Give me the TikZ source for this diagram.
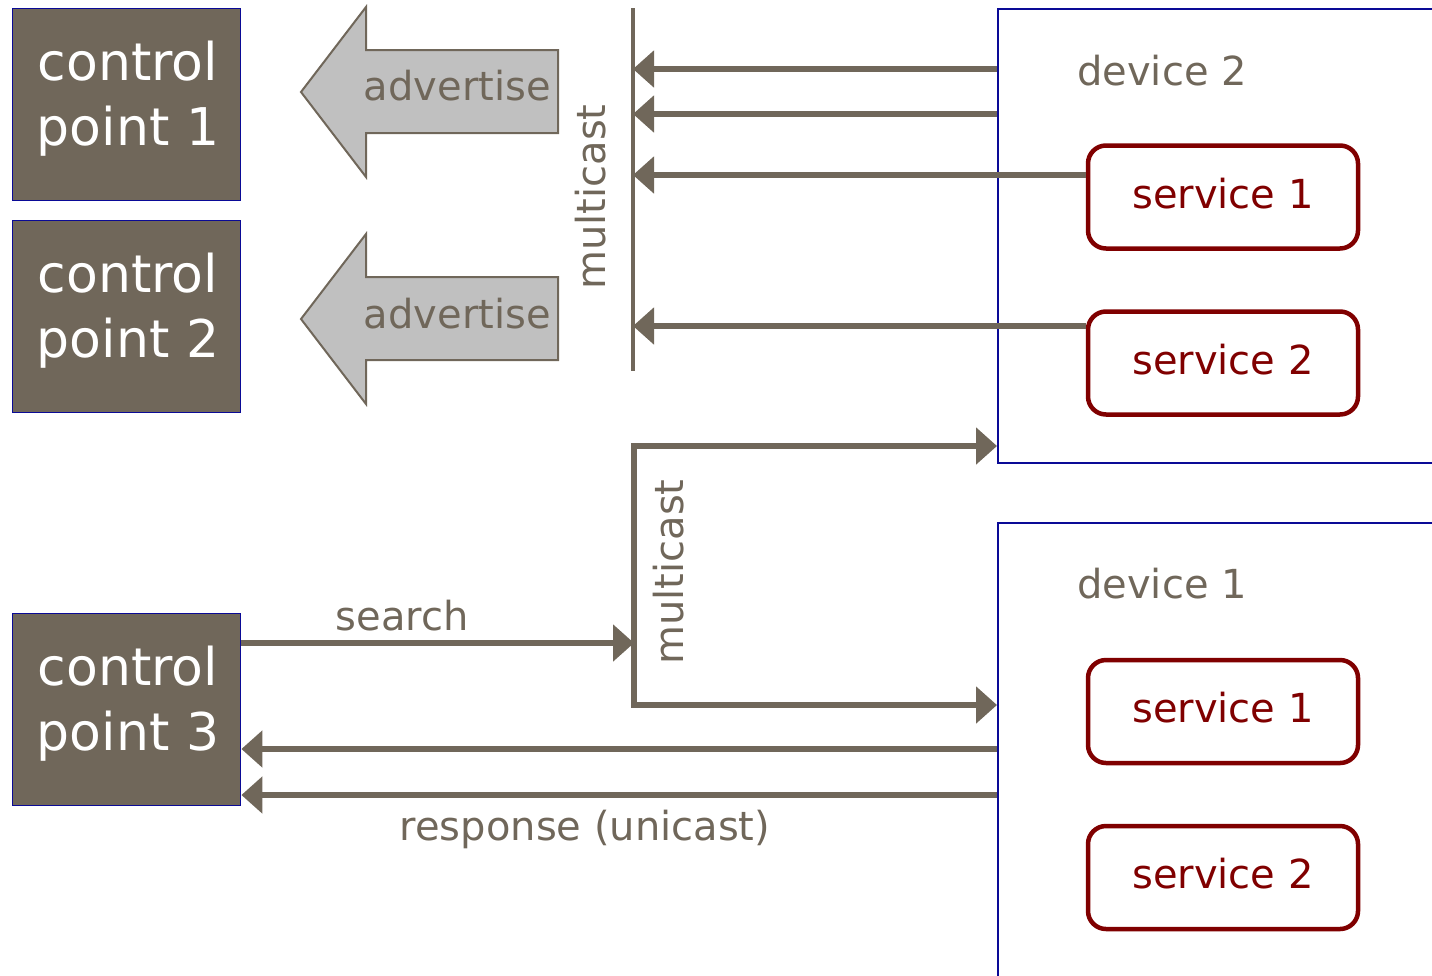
\documentclass[tikz,border=0pt]{standalone}
\usepackage{fontspec}
\setmainfont{DejaVu Sans}
\usetikzlibrary{arrows.meta}
\definecolor{ink}{RGB}{112,103,90}
\definecolor{navy}{RGB}{10,10,150}
\definecolor{svcred}{RGB}{128,0,0}
\definecolor{advfill}{RGB}{192,192,192}

\begin{document}
\begin{tikzpicture}[x=1pt,y=-1pt,
  cpbox/.style={draw=navy, line width=1.8pt, fill=ink, minimum width=228pt,
    minimum height=192pt, inner sep=0pt},
  cptext/.style={text=white, font=\fontsize{52}{65}\selectfont, align=center,
    inner sep=0pt, anchor=north},
  device/.style={draw=navy, line width=2pt, inner sep=0pt, anchor=north west},
  svc/.style={draw=svcred, line width=4.5pt, rounded corners=18pt, minimum width=270pt,
    minimum height=103pt, text=svcred, font=\fontsize{40}{48}\selectfont,
    text height=29pt, text depth=7pt, inner sep=0pt},
  lbl/.style={text=ink, font=\fontsize{40}{48}\selectfont, inner sep=0pt},
  tip/.style={-{Triangle[length=21pt,width=36pt]}},
  flow/.style={draw=ink, line width=6pt, tip},
  bus/.style={draw=ink, line width=4pt},
  bigarrow/.style={draw=ink, line width=2pt, fill=advfill, line join=miter}
]
\useasboundingbox (0,0) rectangle (1432,975);
\clip (0,0) rectangle (1432,975);

% control points
\node[cpbox] (cp1) at (126.5,104.5) {};
\node[cptext] (cp1t) at (128,40.5) {control\\point 1};
\node[cpbox] (cp2) at (126.5,316.5) {};
\node[cptext] (cp2t) at (128,252.5) {control\\point 2};
\node[cpbox] (cp3) at (126.5,709.5) {};
\node[cptext] (cp3t) at (128,645.5) {control\\point 3};

% devices and their services
\node[device, minimum width=460pt, minimum height=454pt] (dev2) at (997,8) {};
\node[device, minimum width=460pt, minimum height=470pt] (dev1) at (997,522) {};
\node[lbl, anchor=base west] (dev2t) at (1077,85) {device 2};
\node[lbl, anchor=base west] (dev1t) at (1077,598) {device 1};
\node[svc] (svc21) at (1223,197) {service 1};
\node[svc] (svc22) at (1223,363) {service 2};
\node[svc] (svc11) at (1223,711.5) {service 1};
\node[svc] (svc12) at (1223,877.5) {service 2};

% advertisement arrows
\draw[bigarrow] (558,50) -- (366,50) -- (366,7) -- (301,92) -- (366,177)
  -- (366,133) -- (558,133) -- cycle;
\draw[bigarrow] (558,277) -- (366,277) -- (366,234) -- (301,319) -- (366,404)
  -- (366,360) -- (558,360) -- cycle;
\node[lbl, anchor=base east] (adv1) at (551,100) {advertise};
\node[lbl, anchor=base east] (adv2) at (551,328) {advertise};

% multicast bus for advertisements
\coordinate (bus1top) at (633,8);
\coordinate (bus1bot) at (633,371);
\draw[bus] (bus1top) -- (bus1bot);
\node[lbl, rotate=90, anchor=base] (mc1) at (605,197) {multicast};
\draw[flow] (dev2.west |- 0,69) -- (bus1top |- 0,69);
\draw[flow] (dev2.west |- 0,114) -- (bus1top |- 0,114);
\draw[flow] (svc21.west |- 0,175) -- (bus1top |- 0,175);
\draw[flow] (svc22.west |- 0,326) -- (bus1top |- 0,326);

% search and multicast fan-out
\coordinate (bus2top) at (634,446);
\coordinate (bus2bot) at (634,705);
\draw[draw=ink, line width=6pt, line join=miter,
  {Triangle[length=21pt,width=36pt]}-{Triangle[length=21pt,width=36pt]}]
  (dev2.west |- bus2top) -- (bus2top) -- (bus2bot) -- (dev1.west |- bus2bot);
\node[lbl, rotate=90, anchor=base] (mc2) at (683,572) {multicast};
\draw[flow] (cp3.east |- 0,643) -- (bus2top |- 0,643);
\node[lbl, anchor=base] (srch) at (402,630) {search};

% unicast responses
\draw[flow] (dev1.west |- 0,749) -- (cp3.east |- 0,749);
\draw[flow] (dev1.west |- 0,795) -- (cp3.east |- 0,795);
\node[lbl, anchor=base] (resp) at (585,840) {response (unicast)};
\end{tikzpicture}
\end{document}
